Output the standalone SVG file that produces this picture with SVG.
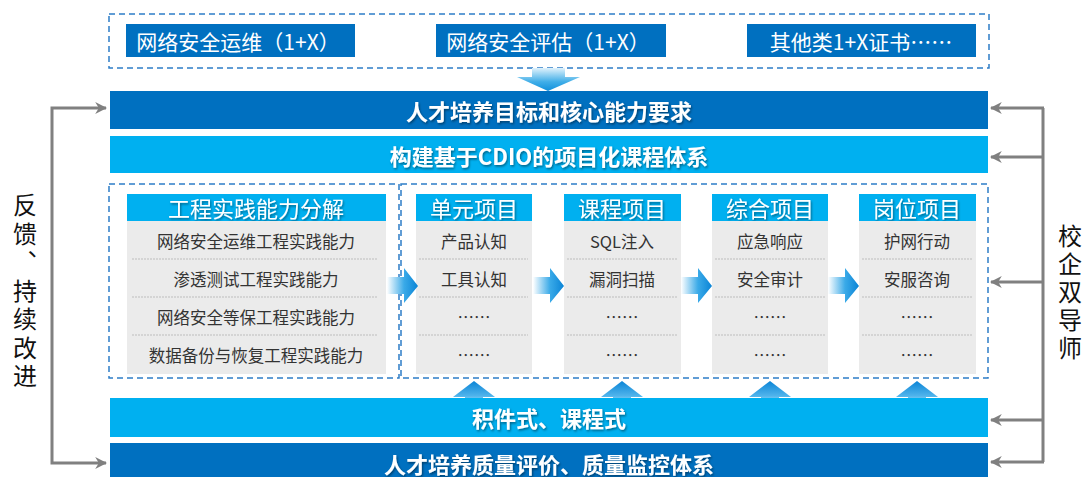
<svg xmlns="http://www.w3.org/2000/svg" width="1084" height="477" viewBox="0 0 1084 477">
<style>
text{font-family:"Noto Sans CJK SC","Liberation Sans",sans-serif;dominant-baseline:central}
.dash{fill:none;stroke:#2E7DC8;stroke-width:1.5;stroke-dasharray:6,4}
.topbox{fill:#0070C0}
.toptxt{fill:#fff;font-size:21px;text-anchor:middle}
.dark{fill:#0070C0}
.light{fill:#00B0F0}
.bartxt{fill:#fff;font-size:22px;font-weight:bold;text-anchor:middle;filter:url(#sh)}
.hdr{fill:#00B0F0}
.hdrtxt{fill:#fff;font-size:22px;text-anchor:middle;filter:url(#sh)}
.body{fill:#EBEBEB}
.row{fill:#333;font-size:16.5px;text-anchor:middle}
.sep{stroke:#BDBDBD;stroke-width:1;stroke-dasharray:2,1}
.conn{fill:none;stroke:#808080;stroke-width:3}
.side{fill:#111;font-size:24px;writing-mode:vertical-rl;text-anchor:start}
</style>
<defs>
<filter id="sh" x="-10%" y="-30%" width="120%" height="160%"><feDropShadow dx="1" dy="1.5" stdDeviation="0.8" flood-color="#000" flood-opacity="0.45"/></filter>
<linearGradient id="gR" x1="0" y1="0" x2="1" y2="0"><stop offset="0" stop-color="#fff"/><stop offset="0.55" stop-color="#3AAAE8"/><stop offset="1" stop-color="#0A84D6"/></linearGradient>
<linearGradient id="gD" x1="0" y1="0" x2="0" y2="1"><stop offset="0" stop-color="#E0F2FC"/><stop offset="0.6" stop-color="#40AEE8"/><stop offset="1" stop-color="#1090DC"/></linearGradient>
<linearGradient id="gU" x1="0" y1="0" x2="0" y2="1"><stop offset="0" stop-color="#0A84D6"/><stop offset="0.6" stop-color="#50B4EC"/><stop offset="1" stop-color="#E8F5FD"/></linearGradient>
<marker id="ah" viewBox="0 0 10 10" refX="9" refY="5" markerWidth="4" markerHeight="4" orient="auto-start-reverse" markerUnits="strokeWidth"><path d="M0,0 L10,5 L0,10 L3,5 z" fill="#808080"/></marker>
<path id="rarrow" d="M0,9 H17 V0 L31,18 L17,35 V26 H0 z"/>
<path id="uarrow" d="M0,16 L21,0 L42,16 H30 V25 H12 V16 z"/>
</defs>

<g id="top-certs">
<rect class="dash" x="109" y="14" width="880" height="54"/>
<g id="cert1"><rect class="topbox" x="126" y="24" width="229" height="33"/><text class="toptxt" x="238" y="41">网络安全运维（1+X）</text></g>
<g id="cert2"><rect class="topbox" x="436" y="24" width="230" height="33"/><text class="toptxt" x="548" y="41">网络安全评估（1+X）</text></g>
<g id="cert3"><rect class="topbox" x="747" y="24" width="229" height="33"/><text class="toptxt" x="861" y="41">其他类1+X证书……</text></g>
</g>

<g id="down-arrow"><path d="M532,68 H565 V77 H580 L548,91 L517,77 H532 z" fill="url(#gD)"/></g>

<g id="bar-goal"><rect class="dark" x="110" y="91" width="878" height="38"/><text class="bartxt" x="549" y="110">人才培养目标和核心能力要求</text></g>
<g id="bar-cdio"><rect class="light" x="110" y="136" width="878" height="37"/><text class="bartxt" x="549" y="155">构建基于CDIO的项目化课程体系</text></g>

<g id="middle">
<rect class="dash" x="109" y="184" width="290" height="194"/>
<rect class="dash" x="401" y="184" width="587" height="194"/>
</g>

<g id="col-ability">
<rect class="hdr" x="127" y="194" width="259" height="27"/><text class="hdrtxt" x="256" y="207">工程实践能力分解</text>
<rect class="body" x="127" y="221" width="259" height="153"/>
<line class="sep" x1="132" y1="259" x2="377" y2="259"/><line class="sep" x1="132" y1="297" x2="377" y2="297"/><line class="sep" x1="132" y1="335" x2="377" y2="335"/>
<text class="row" x="256" y="241">网络安全运维工程实践能力</text>
<text class="row" x="256" y="279">渗透测试工程实践能力</text>
<text class="row" x="256" y="317">网络安全等保工程实践能力</text>
<text class="row" x="256" y="355">数据备份与恢复工程实践能力</text>
</g>

<g id="col-unit">
<rect class="hdr" x="416" y="194" width="116" height="27"/><text class="hdrtxt" x="474" y="207">单元项目</text>
<rect class="body" x="416" y="221" width="116" height="153"/>
<line class="sep" x1="419" y1="259" x2="528" y2="259"/><line class="sep" x1="419" y1="297" x2="528" y2="297"/><line class="sep" x1="419" y1="335" x2="528" y2="335"/>
<text class="row" x="474" y="241">产品认知</text>
<text class="row" x="474" y="279">工具认知</text>
<text class="row" x="474" y="317">……</text>
<text class="row" x="474" y="355">……</text>
</g>

<g id="col-course">
<rect class="hdr" x="564" y="194" width="117" height="27"/><text class="hdrtxt" x="622" y="207">课程项目</text>
<rect class="body" x="564" y="221" width="117" height="153"/>
<line class="sep" x1="567" y1="259" x2="677" y2="259"/><line class="sep" x1="567" y1="297" x2="677" y2="297"/><line class="sep" x1="567" y1="335" x2="677" y2="335"/>
<text class="row" x="622" y="241">SQL注入</text>
<text class="row" x="622" y="279">漏洞扫描</text>
<text class="row" x="622" y="317">……</text>
<text class="row" x="622" y="355">……</text>
</g>

<g id="col-comp">
<rect class="hdr" x="712" y="194" width="116" height="27"/><text class="hdrtxt" x="770" y="207">综合项目</text>
<rect class="body" x="712" y="221" width="116" height="153"/>
<line class="sep" x1="715" y1="259" x2="825" y2="259"/><line class="sep" x1="715" y1="297" x2="825" y2="297"/><line class="sep" x1="715" y1="335" x2="825" y2="335"/>
<text class="row" x="770" y="241">应急响应</text>
<text class="row" x="770" y="279">安全审计</text>
<text class="row" x="770" y="317">……</text>
<text class="row" x="770" y="355">……</text>
</g>

<g id="col-post">
<rect class="hdr" x="859" y="194" width="117" height="27"/><text class="hdrtxt" x="917" y="207">岗位项目</text>
<rect class="body" x="859" y="221" width="117" height="153"/>
<line class="sep" x1="862" y1="259" x2="972" y2="259"/><line class="sep" x1="862" y1="297" x2="972" y2="297"/><line class="sep" x1="862" y1="335" x2="972" y2="335"/>
<text class="row" x="917" y="241">护网行动</text>
<text class="row" x="917" y="279">安服咨询</text>
<text class="row" x="917" y="317">……</text>
<text class="row" x="917" y="355">……</text>
</g>

<g id="flow-arrows" fill="url(#gR)">
<use href="#rarrow" x="387" y="268"/>
<use href="#rarrow" x="533" y="268"/>
<use href="#rarrow" x="681" y="268"/>
<use href="#rarrow" x="828" y="268"/>
</g>
<g id="up-arrows" fill="url(#gU)">
<use href="#uarrow" x="453" y="381"/>
<use href="#uarrow" x="601" y="381"/>
<use href="#uarrow" x="749" y="381"/>
<use href="#uarrow" x="896" y="381"/>
</g>

<g id="bar-module"><rect class="light" x="110" y="398" width="878" height="39"/><text class="bartxt" x="549" y="417">积件式、课程式</text></g>
<g id="bar-eval"><rect class="dark" x="110" y="443" width="878" height="40"/><text class="bartxt" x="549" y="463">人才培养质量评价、质量监控体系</text></g>

<g id="connectors">
<path class="conn" d="M106,108 H52 V463 H106" marker-start="url(#ah)" marker-end="url(#ah)"/>
<path class="conn" d="M1043,108 V462"/>
<path class="conn" d="M1044,108 H991" marker-end="url(#ah)"/>
<path class="conn" d="M1044,157 H991" marker-end="url(#ah)"/>
<path class="conn" d="M1044,282 H991" marker-end="url(#ah)"/>
<path class="conn" d="M1044,420 H991" marker-end="url(#ah)"/>
<path class="conn" d="M1044,462 H991" marker-end="url(#ah)"/>
</g>

<g id="label-feedback"><text class="side" x="25" y="193" letter-spacing="4.5">反馈、持续改进</text></g>
<g id="label-mentor"><text class="side" x="1070" y="224" letter-spacing="4">校企双导师</text></g>
</svg>
